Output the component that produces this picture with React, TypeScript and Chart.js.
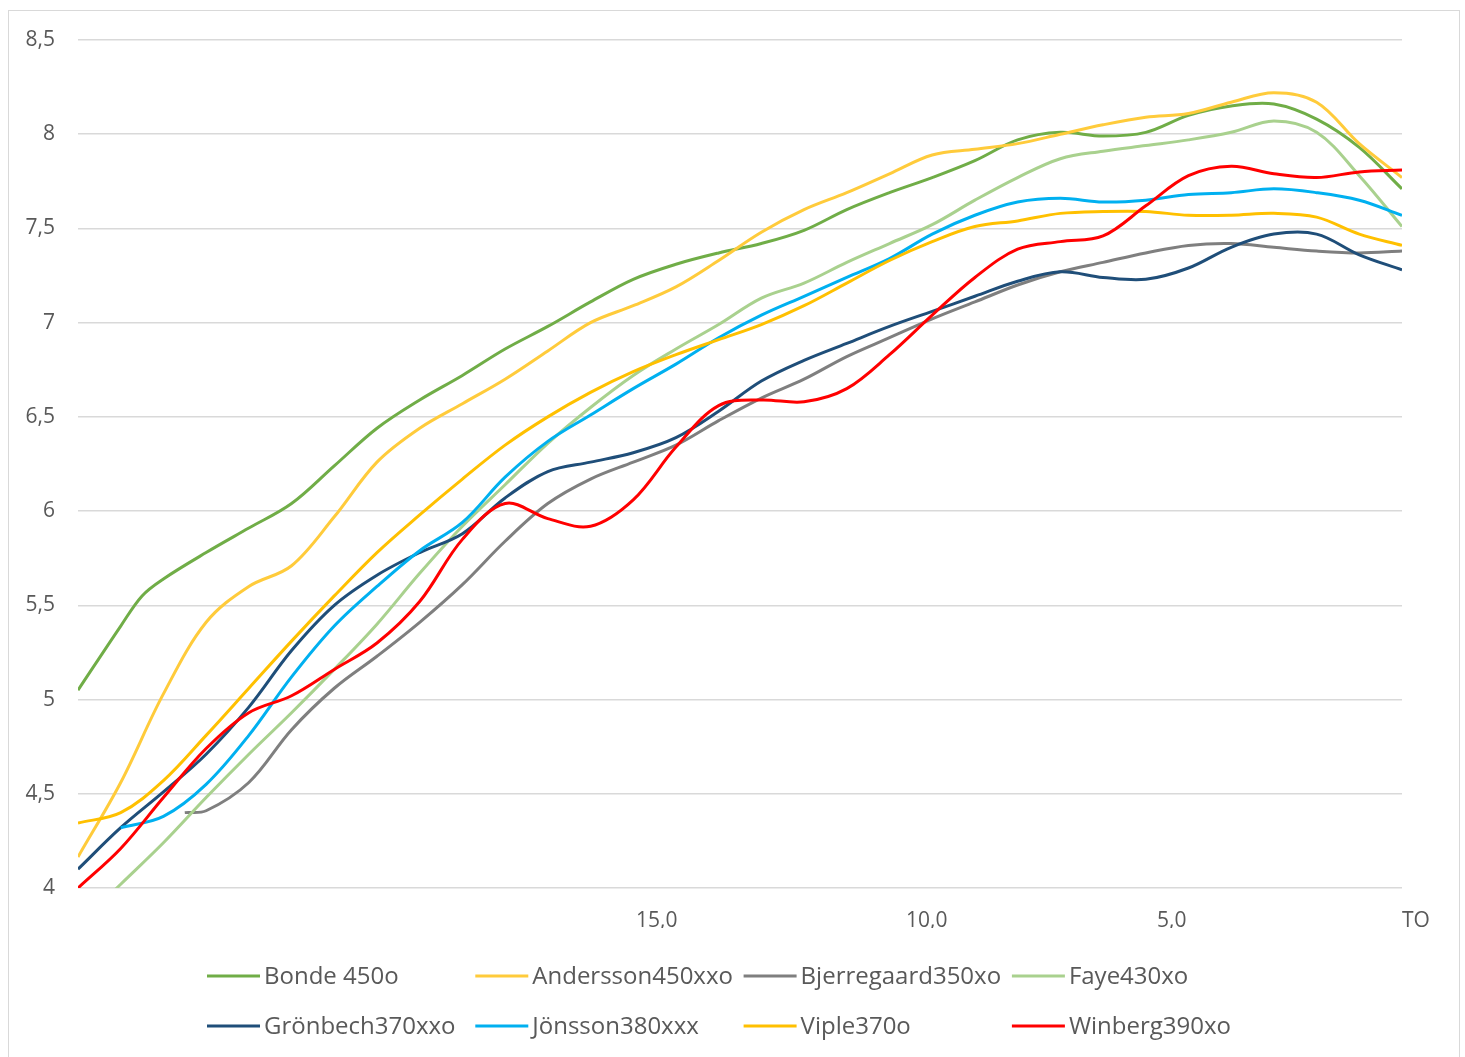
import React, { useEffect, useRef } from 'react';
import { Chart, registerables } from 'chart.js';

Chart.register(...registerables);

// Position along the course (arbitrary course units, finish = 62)
const xUnits = [0, 2, 3, 4, 5, 6, 8, 10, 12, 14, 16, 18, 20, 22, 24, 26, 28, 30, 32, 34, 36, 38, 40, 42, 44, 46, 48, 50, 52, 54, 56, 58, 60, 62];

const bonde = [5.05, 5.39, 5.55, 5.64, null, 5.78, 5.91, 6.04, 6.24, 6.44, 6.59, 6.72, 6.86, 6.98, 7.11, 7.23, 7.31, 7.37, 7.42, 7.49, 7.6, 7.69, 7.77, 7.86, 7.97, 8.01, 7.99, 8.01, 8.1, 8.15, 8.16, 8.08, 7.93, 7.71];
const andersson = [4.165, 4.56, null, 5.03, null, 5.41, 5.6, 5.71, 5.97, 6.26, 6.44, 6.57, 6.7, 6.85, 7.0, 7.09, 7.19, 7.33, 7.48, 7.6, 7.69, 7.79, 7.89, 7.92, 7.95, 8.0, 8.05, 8.09, 8.11, 8.17, 8.22, 8.17, 7.95, 7.77];
const bjerregaard = [null, null, null, null, 4.4, 4.41, 4.56, 4.84, 5.06, 5.23, 5.41, 5.61, 5.84, 6.04, 6.17, 6.26, 6.35, 6.48, 6.6, 6.7, 6.82, 6.92, 7.02, 7.11, 7.2, 7.27, 7.32, 7.37, 7.41, 7.42, 7.4, 7.38, 7.37, 7.38];
const faye = [3.8, 4.02, null, 4.24, null, 4.48, 4.71, 4.93, 5.16, 5.4, 5.67, 5.92, 6.14, 6.36, 6.55, 6.72, 6.86, 6.99, 7.13, 7.21, 7.32, 7.42, 7.52, 7.65, 7.77, 7.87, 7.91, 7.94, 7.97, 8.01, 8.07, 8.01, 7.78, 7.51];
const gronbech = [4.1, 4.32, null, 4.51, null, 4.71, 4.96, 5.26, 5.5, 5.66, 5.78, 5.88, 6.07, 6.21, 6.26, 6.31, 6.39, 6.53, 6.69, 6.8, 6.89, 6.98, 7.06, 7.14, 7.22, 7.27, 7.24, 7.23, 7.29, 7.4, 7.47, 7.47, 7.36, 7.28];
const jonsson = [null, 4.32, null, 4.38, null, 4.55, 4.81, 5.12, 5.39, 5.6, 5.79, 5.94, 6.18, 6.37, 6.51, 6.65, 6.78, 6.92, 7.04, 7.14, 7.24, 7.34, 7.47, 7.57, 7.64, 7.66, 7.64, 7.65, 7.68, 7.69, 7.71, 7.69, 7.65, 7.57];
const viple = [4.345, 4.4, null, 4.57, null, 4.81, 5.06, 5.31, 5.55, 5.78, 5.98, 6.17, 6.35, 6.5, 6.63, 6.74, 6.83, 6.91, 6.99, 7.09, 7.21, 7.33, 7.43, 7.51, 7.54, 7.58, 7.59, 7.59, 7.57, 7.57, 7.58, 7.56, 7.47, 7.41];
const winberg = [4.0, 4.21, null, 4.48, null, 4.74, 4.93, 5.02, 5.16, 5.3, 5.52, 5.85, 6.04, 5.96, 5.92, 6.06, 6.34, 6.56, 6.59, 6.58, 6.65, 6.83, 7.04, 7.24, 7.39, 7.43, 7.46, 7.62, 7.78, 7.83, 7.79, 7.77, 7.8, 7.81];

const seriesNames = ['Bonde 450o', 'Andersson450xxo', 'Bjerregaard350xo', 'Faye430xo', 'Grönbech370xxo', 'Jönsson380xxx', 'Viple370o', 'Winberg390xo'];
const seriesValues = [bonde, andersson, bjerregaard, faye, gronbech, jonsson, viple, winberg];
const seriesColors = ['#70AD47', '#FFCB3B', '#7F7F7F', '#A9D18E', '#1F4E79', '#00B0F0', '#FFC000', '#FF0000'];

const yMin = 4;
const yMax = 8.5;
const yStep = 0.5;
const xTickPositions = [26.13, 38.77, 50.53, 62];
const xTickLabels = ['15,0', '10,0', '5,0', 'TO'];

const FONT = '"Open Sans", "Liberation Sans", sans-serif';
const TEXT = '#595959';

const gridLegend = {
  id: 'gridLegend',
  afterDraw(chart: any) {
    const { ctx, chartArea } = chart;
    ctx.save();
    ctx.font = `24px ${FONT}`;
    ctx.fillStyle = TEXT;
    ctx.textBaseline = 'middle';
    ctx.textAlign = 'left';
    chart.data.datasets.forEach((ds: any, i: number) => {
      const col = i % 4;
      const row = Math.floor(i / 4);
      const x0 = chartArea.left + 129 + col * 268.3;
      const y = chartArea.bottom + 88 + row * 50;
      ctx.strokeStyle = ds.borderColor;
      ctx.lineWidth = 3;
      ctx.beginPath();
      ctx.moveTo(x0, y);
      ctx.lineTo(x0 + 53, y);
      ctx.stroke();
      ctx.fillText(ds.label, x0 + 57, y + 1);
    });
    ctx.restore();
  },
};

export default function App() {
  const ref = useRef<HTMLCanvasElement | null>(null);

  useEffect(() => {
    if (!ref.current) return;
    const n = seriesNames.length;
    const chart = new Chart(ref.current, {
      type: 'line',
      data: {
        datasets: seriesNames.map((name, i) => ({
          label: name,
          data: xUnits
            .map((x, k) => ({ x, y: seriesValues[i][k] }))
            .filter((p) => p.y !== null),
          borderColor: seriesColors[i],
          backgroundColor: seriesColors[i],
          borderWidth: 3,
          pointRadius: 0,
          tension: 0.35,
          fill: false,
          order: n - 1 - i,
        })),
      },
      options: {
        responsive: false,
        maintainAspectRatio: false,
        animation: false,
        events: [],
        layout: { padding: { left: 0, right: 57, top: 29, bottom: 131 } },
        plugins: {
          legend: { display: false },
          tooltip: { enabled: false },
          title: { display: false },
        },
        scales: {
          x: {
            type: 'linear',
            min: 0,
            max: 62,
            grid: { display: false, drawTicks: false },
            border: { display: false },
            afterBuildTicks: (s: any) => {
              s.ticks = xTickPositions.map((v) => ({ value: v }));
            },
            afterFit: (s: any) => {
              s.height = 40;
              s.paddingLeft = 0;
              s.paddingRight = 0;
            },
            ticks: {
              autoSkip: false,
              maxRotation: 0,
              align: 'start',
              padding: 20,
              color: TEXT,
              font: { family: FONT, size: 21 },
              callback: (_v: any, i: number) => xTickLabels[i],
            },
          },
          y: {
            min: yMin,
            max: yMax,
            grid: { color: '#D9D9D9', lineWidth: 1.5, drawTicks: false },
            border: { display: false },
            afterFit: (s: any) => {
              s.width = 69;
              s.paddingTop = 0;
              s.paddingBottom = 0;
            },
            ticks: {
              stepSize: yStep,
              padding: 23,
              color: TEXT,
              font: { family: FONT, size: 21 },
              callback: (v: any) => {
                const num = Number(v);
                return Number.isInteger(num) ? String(num) : num.toFixed(1).replace('.', ',');
              },
            },
          },
        },
      } as any,
      plugins: [gridLegend],
    });
    return () => chart.destroy();
  }, []);

  return (
    <div
      style={{
        position: 'fixed',
        left: 8,
        top: 10,
        width: 1450,
        height: 1060,
        border: '1px solid #D9D9D9',
        background: '#FFFFFF',
      }}
    >
      <canvas ref={ref} width={1450} height={1048} style={{ display: 'block', width: 1450, height: 1048 }} />
    </div>
  );
}
